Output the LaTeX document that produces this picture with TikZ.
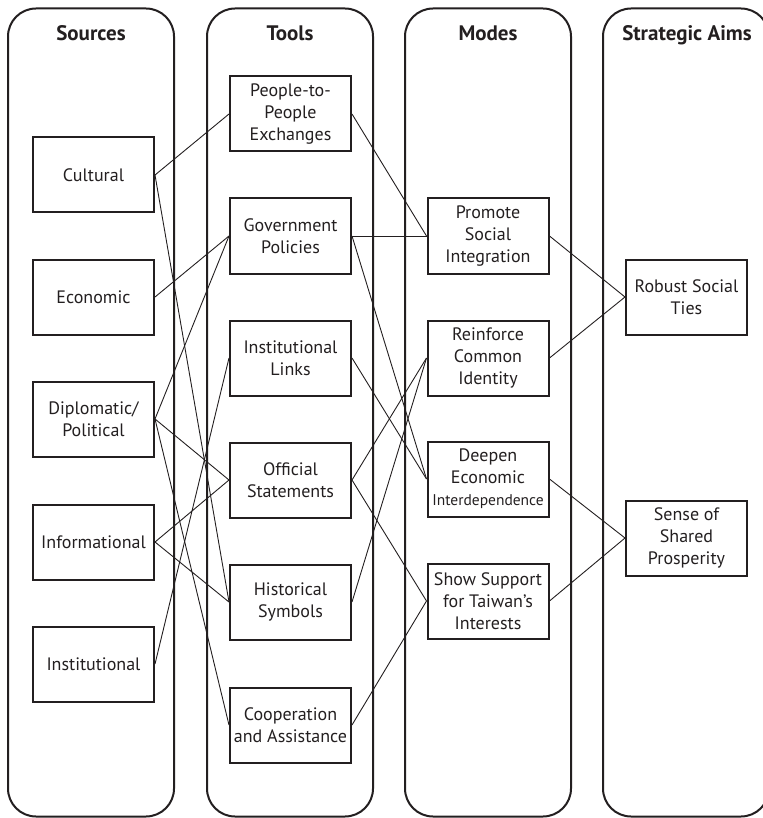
\documentclass[tikz,border=0pt]{standalone}
\usepackage{fontspec}
\setmainfont{PT Sans}
\definecolor{ink}{RGB}{35,31,32}
\tikzset{
  col/.style={draw=ink, line width=2pt, rounded corners=28pt},
  bx/.style={draw=ink, text=ink, line width=2pt, minimum width=121pt, minimum height=75pt,
    align=center, inner sep=1pt, font=\fontsize{18}{22}\selectfont},
  hd/.style={text=ink, anchor=base, font=\fontsize{21}{24}\selectfont\bfseries},
  ln/.style={draw=ink, line width=0.9pt},
}
\begin{document}
\begin{tikzpicture}[x=1pt,y=-1pt]
\useasboundingbox (0,0) rectangle (762,818);
% columns
\draw[col] (8,8.5) rectangle (174,816.5);
\draw[col] (207,8.5) rectangle (373,816.5);
\draw[col] (405,8.5) rectangle (571,816.5);
\draw[col] (603,8.5) rectangle (769,816.5);
% headings
\node[hd] (hsrc) at (91,41) {Sources};
\node[hd] (htool) at (290,41) {Tools};
\node[hd] (hmode) at (488,41) {Modes};
\node[hd] (haim) at (687,41) {Strategic Aims};
% sources
\node[bx] (cul) at (93.5,175) {Cultural};
\node[bx] (eco) at (93.5,297) {Economic};
\node[bx] (dip) at (93.5,419) {Diplomatic/\\Political};
\node[bx] (inf) at (93.5,542) {Informational};
\node[bx] (ins) at (93.5,664) {Institutional};
% tools
\node[bx] (ppl) at (290.5,114) {People-to-\\People\\Exchanges};
\node[bx] (gov) at (290.5,236) {Government\\Policies};
\node[bx] (inl) at (290.5,358) {Institutional\\Links};
\node[bx] (off) at (290.5,480) {Official\\Statements};
\node[bx] (his) at (290.5,602) {Historical\\Symbols};
\node[bx] (coo) at (290.5,725) {Cooperation\\and Assistance};
% modes
\node[bx] (pro) at (488,236) {Promote\\Social\\Integration};
\node[bx] (rei) at (488,358) {Reinforce\\Common\\Identity};
\node[bx] (dee) at (488,479) {Deepen\\Economic\\{\fontsize{15.5}{22}\selectfont Interdependence}};
\node[bx] (sho) at (488,601) {Show Support\\for Taiwan’s\\Interests};
% aims
\node[bx] (rob) at (686.5,297) {Robust Social\\Ties};
\node[bx] (sen) at (686.5,538) {Sense of\\Shared\\Prosperity};
% sources -> tools
\draw[ln] (cul.east) -- (ppl.west);
\draw[ln] (cul.east) -- (his.west);
\draw[ln] (eco.east) -- (gov.west);
\draw[ln] (dip.east) -- (gov.west);
\draw[ln] (dip.east) -- (off.west);
\draw[ln] (dip.east) -- (coo.west);
\draw[ln] (inf.east) -- (off.west);
\draw[ln] (inf.east) -- (his.west);
\draw[ln] (ins.east) -- (inl.west);
% tools -> modes
\draw[ln] (ppl.east) -- (pro.west);
\draw[ln] (gov.east) -- (pro.west);
\draw[ln] (gov.east) -- (dee.west);
\draw[ln] (inl.east) -- (dee.west);
\draw[ln] (off.east) -- (rei.west);
\draw[ln] (off.east) -- (sho.west);
\draw[ln] (his.east) -- (rei.west);
\draw[ln] (coo.east) -- (sho.west);
% modes -> aims
\draw[ln] (pro.east) -- (rob.west);
\draw[ln] (rei.east) -- (rob.west);
\draw[ln] (dee.east) -- (sen.west);
\draw[ln] (sho.east) -- (sen.west);
\end{tikzpicture}
\end{document}
